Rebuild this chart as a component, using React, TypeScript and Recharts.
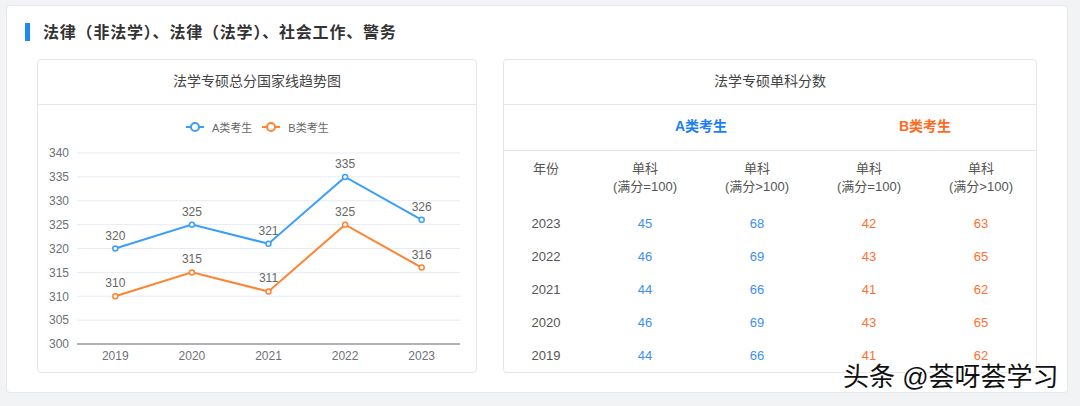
import React from "react";
import { LineChart, Line, XAxis, YAxis, CartesianGrid, LabelList } from "recharts";

// chart data
const years = ["2019", "2020", "2021", "2022", "2023"];
const scoreA = [320, 325, 321, 335, 326];
const scoreB = [310, 315, 311, 325, 316];
const yTicks = [300, 305, 310, 315, 320, 325, 330, 335, 340];
const seriesNames = ["A类考生", "B类考生"];

// table data
const tableYears = ["2023", "2022", "2021", "2020", "2019"];
const aSingle100 = [45, 46, 44, 46, 44];
const aSingleOver = [68, 69, 66, 69, 66];
const bSingle100 = [42, 43, 41, 43, 41];
const bSingleOver = [63, 65, 62, 65, 62];
const colHeads = ["(满分=100)", "(满分>100)", "(满分=100)", "(满分>100)"];

const BLUE = "#3a9ffb";
const ORANGE = "#ff8432";
const FONT = "'Liberation Sans', 'Noto Sans CJK SC', sans-serif";

const chartData = years.map((y, i) => ({ year: y, a: scoreA[i], b: scoreB[i] }));
const edgeTicks = [...years.map((_, i) => i), years.length];

const cardStyle: React.CSSProperties = {
  position: "absolute",
  top: 59,
  height: 314,
  boxSizing: "border-box",
  border: "1px solid #e4e6eb",
  borderRadius: 4,
  background: "#fff",
};

const headerStyle: React.CSSProperties = {
  height: 44,
  lineHeight: "43px",
  borderBottom: "1px solid #e4e6eb",
  textAlign: "center",
  fontSize: 14,
  color: "#444",
};

const LegendIcon = ({ color }: { color: string }) => (
  <svg width={18} height={12} style={{ display: "block" }}>
    <line x1={0} y1={6} x2={18} y2={6} stroke={color} strokeWidth={2} />
    <circle cx={9} cy={6} r={4} fill="#fff" stroke={color} strokeWidth={2} />
  </svg>
);

// table columns (year column + 4 score columns)
const colLeft = [503, 589, 701, 813, 925];
const colWidth = [86, 112, 112, 112, 112];

const Cell = ({ col, top, color, children, h = 20 }: any) => (
  <div
    style={{
      position: "absolute",
      left: colLeft[col],
      width: colWidth[col],
      top,
      height: h,
      lineHeight: h + "px",
      textAlign: "center",
      fontSize: 13,
      color,
    }}
  >
    {children}
  </div>
);

export default function App() {
  const scoreCols = [aSingle100, aSingleOver, bSingle100, bSingleOver];
  const scoreColors = ["#3d8ef5", "#3d8ef5", "#ff6f2e", "#ff6f2e"];
  return (
    <div
      style={{
        position: "absolute",
        left: 0,
        top: 0,
        width: 1080,
        height: 406,
        background: "#f2f3f5",
        fontFamily: FONT,
        overflow: "hidden",
      }}
    >
      {/* outer panel */}
      <div
        style={{
          position: "absolute",
          left: 6,
          top: 5,
          width: 1062,
          height: 388,
          boxSizing: "border-box",
          background: "#fff",
          border: "1px solid #e6e8ec",
          borderRadius: 4,
        }}
      />
      <div style={{ position: "absolute", left: 25, top: 23, width: 5, height: 18, background: "#1e88f5" }} />
      <div
        style={{
          position: "absolute",
          left: 43,
          top: 22,
          height: 22,
          lineHeight: "22px",
          fontSize: 16,
          fontWeight: "bold",
          letterSpacing: 0.8,
          color: "#333",
        }}
      >
        法律（非法学）、法律（法学）、社会工作、警务
      </div>

      {/* left card */}
      <div style={{ ...cardStyle, left: 37, width: 440 }}>
        <div style={headerStyle}>法学专硕总分国家线趋势图</div>
      </div>

      {/* legend */}
      <div
        style={{
          position: "absolute",
          left: 186,
          top: 119,
          height: 16,
          display: "flex",
          alignItems: "center",
          fontSize: 11,
          color: "#666",
        }}
      >
        {seriesNames.map((n, i) => (
          <div key={n} style={{ display: "flex", alignItems: "center", marginRight: 10 }}>
            <LegendIcon color={i === 0 ? BLUE : ORANGE} />
            <span style={{ marginLeft: 8 }}>{n}</span>
          </div>
        ))}
      </div>

      <div style={{ position: "absolute", left: 37, top: 104 }}>
        <LineChart
          width={440}
          height={270}
          data={chartData}
          margin={{ top: 49, right: 17, left: 0, bottom: 0 }}
        >
          <CartesianGrid xAxisId="x-cat" vertical={false} stroke="#e6ebf4" />
          <XAxis
            xAxisId="x-cat"
            dataKey="year"
            scale="band"
            height={29}
            axisLine={false}
            tickLine={false}
            tickSize={4}
            tickMargin={2}
            tick={{ fontSize: 12, fill: "#6e7079" }}
          />
          <XAxis
            xAxisId="a-edge"
            type="number"
            domain={[0, years.length]}
            ticks={edgeTicks}
            tick={false}
            height={1}
            tickSize={5}
            stroke="#6e7079"
            allowDataOverflow
          />
          <YAxis
            width={40}
            domain={[300, 340]}
            ticks={yTicks}
            axisLine={false}
            tickLine={false}
            tick={{ fontSize: 12, fill: "#6e7079" }}
          />
          <Line
            xAxisId="x-cat"
            dataKey="a"
            name={seriesNames[0]}
            stroke={BLUE}
            strokeWidth={2}
            dot={{ r: 2.5, fill: "#fff", stroke: BLUE, strokeWidth: 1.5 }}
            isAnimationActive={false}
          >
            <LabelList dataKey="a" position="top" offset={9} fill="#666" fontSize={12} />
          </Line>
          <Line
            xAxisId="x-cat"
            dataKey="b"
            name={seriesNames[1]}
            stroke={ORANGE}
            strokeWidth={2}
            dot={{ r: 2.5, fill: "#fff", stroke: ORANGE, strokeWidth: 1.5 }}
            isAnimationActive={false}
          >
            <LabelList dataKey="b" position="top" offset={9} fill="#666" fontSize={12} />
          </Line>
        </LineChart>
      </div>

      {/* right card */}
      <div style={{ ...cardStyle, left: 503, width: 534 }}>
        <div style={headerStyle}>法学专硕单科分数</div>
        <div style={{ height: 45, borderBottom: "1px solid #e4e6eb" }} />
      </div>
      <div
        style={{
          position: "absolute",
          left: 589,
          width: 224,
          top: 116,
          lineHeight: "20px",
          textAlign: "center",
          fontSize: 14,
          fontWeight: "bold",
          color: "#1a7ef5",
        }}
      >
        {seriesNames[0]}
      </div>
      <div
        style={{
          position: "absolute",
          left: 813,
          width: 224,
          top: 116,
          lineHeight: "20px",
          textAlign: "center",
          fontSize: 14,
          fontWeight: "bold",
          color: "#ff6a1c",
        }}
      >
        {seriesNames[1]}
      </div>

      <Cell col={0} top={159} color="#555">年份</Cell>
      {colHeads.map((h, i) => (
        <React.Fragment key={i}>
          <Cell col={i + 1} top={159} color="#555">单科</Cell>
          <Cell col={i + 1} top={177} color="#555">{h}</Cell>
        </React.Fragment>
      ))}

      {tableYears.map((y, r) => (
        <React.Fragment key={y}>
          <Cell col={0} top={214 + r * 33} color="#555">{y}</Cell>
          {scoreCols.map((col, c) => (
            <Cell key={c} col={c + 1} top={214 + r * 33} color={scoreColors[c]}>
              {col[r]}
            </Cell>
          ))}
        </React.Fragment>
      ))}

      {/* watermark */}
      <div
        style={{
          position: "absolute",
          left: 843,
          top: 361,
          height: 32,
          lineHeight: "32px",
          fontSize: 26,
          color: "#111",
          whiteSpace: "nowrap",
          textShadow: "1px 1px 0 #fff, -1px -1px 0 #fff, 1px -1px 0 #fff, -1px 1px 0 #fff",
        }}
      >
        头条 @荟呀荟学习
      </div>
    </div>
  );
}
